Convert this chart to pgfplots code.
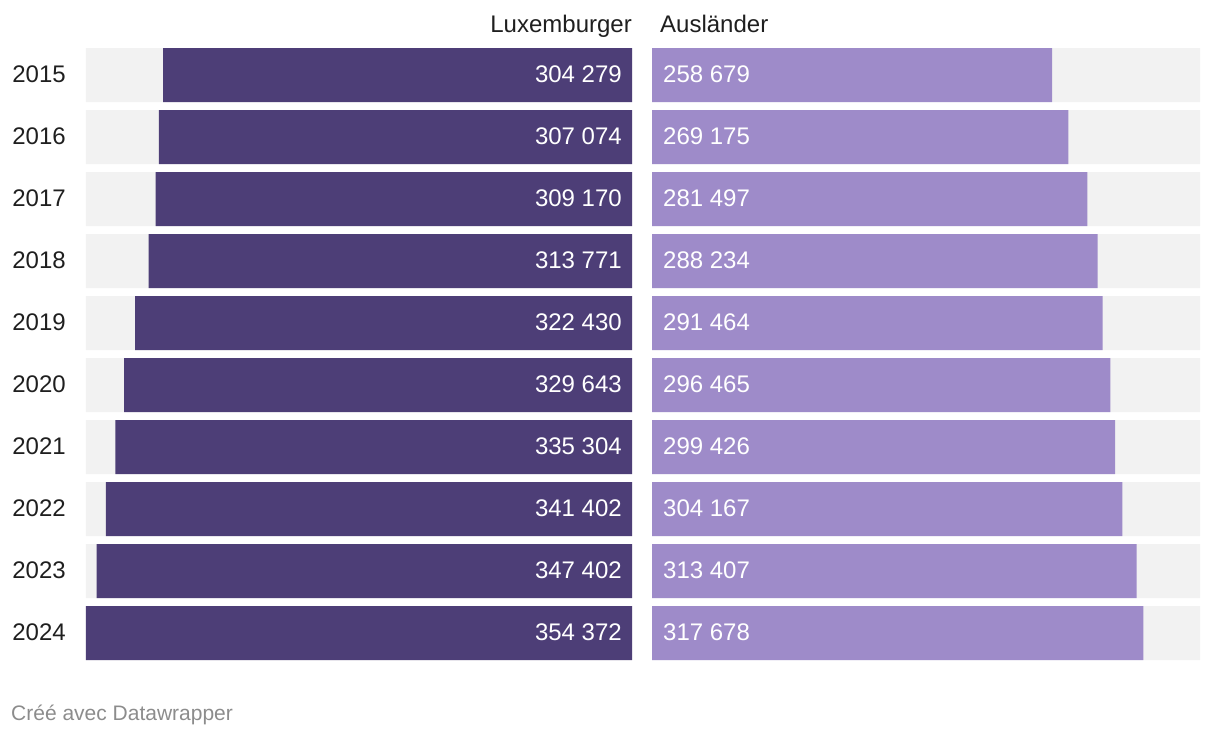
\documentclass[border=0pt]{standalone}
\usepackage{pgfplots}
\pgfplotsset{compat=1.18}
\usepackage{pgfplotstable}
\usepackage{fontspec}
\setmainfont{Liberation Sans}
\definecolor{darkp}{HTML}{4D3E77}
\definecolor{lightp}{HTML}{9E8BC9}
\definecolor{bgrey}{HTML}{F2F2F2}
\definecolor{txt}{HTML}{1F1F1F}
\definecolor{foot}{HTML}{8C8C8C}
\newcommand{\fs}{\fontsize{24}{28}\selectfont}

\pgfplotstableread{
idx year lux aus full
0 2015 304279 258679 354372
1 2016 307074 269175 354372
2 2017 309170 281497 354372
3 2018 313771 288234 354372
4 2019 322430 291464 354372
5 2020 329643 296465 354372
6 2021 335304 299426 354372
7 2022 341402 304167 354372
8 2023 347402 313407 354372
9 2024 354372 317678 354372
}\data

\pgfplotsset{panel/.style={scale only axis, height=612pt,
  ymin=-0.4355, ymax=9.4355, y dir=reverse, xmin=0, xmax=354372,
  axis line style={draw=none}, xtick=\empty, major tick length=0pt, clip=false,
  title style={inner sep=0pt, yshift=10pt, font=\fs, text=txt},
  /pgf/number format/.cd, fixed, precision=0, 1000 sep={\ }, assume math mode=true}}

\begin{document}
\begin{tikzpicture}
\useasboundingbox (0,0) rectangle (1220pt,736pt);
\begin{axis}[panel, at={(86pt,76pt)}, anchor=south west, width=546pt, x dir=reverse,
  ytick={0,1,2,3,4,5,6,7,8,9},
  yticklabels={2015,2016,2017,2018,2019,2020,2021,2022,2023,2024},
  yticklabel style={anchor=east, inner sep=0pt, xshift=-20pt, yshift=1pt, text=txt, font=\fs},
  title=Luxemburger, title style={at={(1,1)}, anchor=base east}]
\addplot[xbar, bar width=54pt, bar shift=0pt, fill=bgrey, draw=none] table[x=full,y=idx]{\data};
\addplot[xbar, bar width=54pt, bar shift=0pt, fill=darkp, draw=none] table[x=lux,y=idx]{\data};
\addplot[draw=none, mark=none, nodes near coords, point meta=explicit,
  nodes near coords style={anchor=east, inner sep=0pt, xshift=-10pt, yshift=1pt, text=white, font=\fs}]
  table[x expr=0, y=idx, meta=lux]{\data};
\end{axis}
\begin{axis}[panel, at={(652pt,76pt)}, anchor=south west, width=548pt, ytick=\empty,
  title=Ausländer, title style={at={(0,1)}, anchor=base west, xshift=8pt}]
\addplot[xbar, bar width=54pt, bar shift=0pt, fill=bgrey, draw=none] table[x=full,y=idx]{\data};
\addplot[xbar, bar width=54pt, bar shift=0pt, fill=lightp, draw=none] table[x=aus,y=idx]{\data};
\addplot[draw=none, mark=none, nodes near coords, point meta=explicit,
  nodes near coords style={anchor=west, inner sep=0pt, xshift=11pt, yshift=1pt, text=white, font=\fs}]
  table[x expr=0, y=idx, meta=aus]{\data};
\end{axis}
\node[anchor=base west, inner sep=0pt, text=foot, font=\fontsize{21}{24}\selectfont] at (11pt,16pt) {Créé avec Datawrapper};
\end{tikzpicture}
\end{document}
